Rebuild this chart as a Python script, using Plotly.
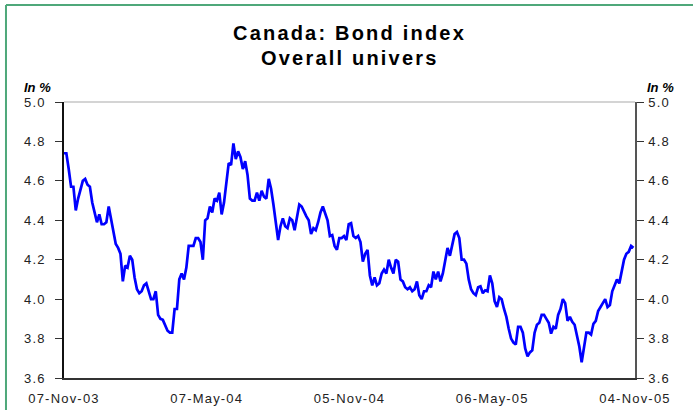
import plotly.graph_objects as go
import pandas as pd

# ---- data ----
start_date = "2003-11-07"
end_date = "2005-11-04"
dates = pd.date_range(start_date, periods=243, freq="3D")
yields = [
    4.74, 4.74, 4.66, 4.57, 4.57, 4.45, 4.51, 4.55, 4.60, 4.61,
    4.58, 4.57, 4.49, 4.44, 4.39, 4.43, 4.38, 4.38, 4.39, 4.47,
    4.41, 4.35, 4.28, 4.26, 4.23, 4.09, 4.17, 4.16, 4.22, 4.20,
    4.11, 4.05, 4.03, 4.04, 4.07, 4.08, 4.04, 4.00, 4.00, 4.04,
    3.92, 3.90, 3.895, 3.87, 3.84, 3.83, 3.83, 3.95, 3.95, 4.10,
    4.13, 4.10, 4.16, 4.27, 4.27, 4.27, 4.31, 4.31, 4.29, 4.20,
    4.40, 4.41, 4.47, 4.44, 4.51, 4.50, 4.54, 4.43, 4.49, 4.58,
    4.69, 4.68, 4.79, 4.71, 4.75, 4.72, 4.66, 4.70, 4.63, 4.51,
    4.50, 4.50, 4.54, 4.50, 4.55, 4.52, 4.51, 4.61, 4.56, 4.48,
    4.40, 4.30, 4.37, 4.41, 4.37, 4.36, 4.41, 4.40, 4.35, 4.42,
    4.48, 4.47, 4.44, 4.42, 4.40, 4.33, 4.36, 4.35, 4.39, 4.44,
    4.47, 4.44, 4.40, 4.32, 4.325, 4.27, 4.25, 4.31, 4.31, 4.32,
    4.30, 4.38, 4.385, 4.32, 4.31, 4.32, 4.29, 4.19, 4.23, 4.25,
    4.12, 4.07, 4.11, 4.07, 4.08, 4.13, 4.15, 4.13, 4.20, 4.16,
    4.13, 4.20, 4.19, 4.10, 4.09, 4.06, 4.05, 4.06, 4.04, 4.05,
    4.09, 4.02, 4.00, 4.04, 4.04, 4.07, 4.06, 4.14, 4.10, 4.14,
    4.09, 4.13, 4.20, 4.26, 4.22, 4.28, 4.33, 4.34, 4.31, 4.20,
    4.20, 4.18, 4.10, 4.05, 4.03, 4.02, 4.06, 4.065, 4.03, 4.045,
    4.04, 4.12, 4.08, 3.99, 3.96, 4.01, 4.00, 3.95, 3.91, 3.85,
    3.80, 3.78, 3.77, 3.86, 3.86, 3.83, 3.75, 3.71, 3.73, 3.74,
    3.83, 3.87, 3.88, 3.92, 3.92, 3.90, 3.88, 3.825, 3.86, 3.85,
    3.92, 3.95, 4.00, 3.98, 3.89, 3.91, 3.885, 3.87, 3.815, 3.76,
    3.68, 3.75, 3.83, 3.83, 3.82, 3.875, 3.89, 3.94, 3.96, 3.98,
    4.00, 3.96, 3.97, 4.04, 4.07, 4.10, 4.08, 4.15, 4.20, 4.23,
    4.24, 4.27, 4.26,
]
x_tick_dates = ["2003-11-07", "2004-05-07", "2004-11-05", "2005-05-06", "2005-11-04"]
x_tick_labels = ["07-Nov-03", "07-May-04", "05-Nov-04", "06-May-05", "04-Nov-05"]
y_ticks = [3.6, 3.8, 4.0, 4.2, 4.4, 4.6, 4.8, 5.0]
y_tick_labels = [f"{v:.1f}" for v in y_ticks]
title_lines = ["Canada: Bond index", "Overall univers"]
unit_label = "In %"

FONT = "Liberation Sans, Arial, sans-serif"
SP = '<span style="letter-spacing:1.2px">{}</span>'
TSP = '<span style="letter-spacing:2.2px">{}</span>'

fig = go.Figure()
fig.add_trace(go.Scatter(x=dates, y=yields, mode="lines",
                         line=dict(color="#0000ff", width=2.7),
                         showlegend=False, hoverinfo="x+y"))
fig.add_trace(go.Scatter(x=dates, y=yields, mode="lines", yaxis="y2",
                         line=dict(color="rgba(0,0,0,0)", width=0),
                         showlegend=False, hoverinfo="skip"))

axis_font = dict(family=FONT, size=13, color="#222222")
fig.update_layout(
    width=693, height=410,
    margin=dict(l=64, r=58, t=102, b=32, autoexpand=False),
    paper_bgcolor="white", plot_bgcolor="white",
    xaxis=dict(range=[start_date, end_date], tickvals=x_tick_dates,
               ticktext=[SP.format(t) for t in x_tick_labels],
               ticks="", showgrid=False, zeroline=False,
               showline=True, linecolor="#333333", linewidth=1.5,
               tickfont=axis_font, ticklabelstandoff=8),
    yaxis=dict(range=[3.6, 5.0], tickvals=y_ticks,
               ticktext=[SP.format(t) for t in y_tick_labels],
               ticks="outside", ticklen=7, tickwidth=1, tickcolor="#333333",
               showgrid=False, zeroline=False,
               showline=True, linecolor="#111111", linewidth=1.5,
               tickfont=axis_font, ticklabelstandoff=7),
    yaxis2=dict(range=[3.6, 5.0], tickvals=y_ticks,
                ticktext=[SP.format(t) for t in y_tick_labels],
                overlaying="y", side="right",
                ticks="outside", ticklen=7, tickwidth=1, tickcolor="#333333",
                showgrid=False, zeroline=False,
                showline=True, linecolor="#555555", linewidth=1.5,
                tickfont=axis_font, ticklabelstandoff=2),
)

# plot-area top border (light gray)
fig.add_shape(type="line", xref="paper", yref="paper", x0=0, x1=1, y0=1, y1=1,
              line=dict(color="#aaaaaa", width=1.2))
# green frame (left and top)
fig.add_shape(type="line", xref="paper", yref="paper", x0=-0.1016, x1=-0.1016,
              y0=1.351, y1=-0.2, line=dict(color="#4fa87a", width=2))
fig.add_shape(type="line", xref="paper", yref="paper", x0=-0.1016, x1=1.2,
              y0=1.351, y1=1.351, line=dict(color="#4fa87a", width=2))

# title
for i, line in enumerate(title_lines):
    fig.add_annotation(text="<b>" + TSP.format(line) + "</b>", xref="paper", yref="paper",
                       x=0.5, y=1.25 - i * 0.09, xanchor="center", yanchor="middle",
                       showarrow=False, font=dict(family=FONT, size=20, color="#000000"))
# unit labels
for xp in (-0.046, 1.044):
    fig.add_annotation(text="<b><i>" + unit_label + "</i></b>", xref="paper", yref="paper",
                       x=xp, y=1.054, xanchor="center", yanchor="middle",
                       showarrow=False, font=dict(family=FONT, size=13, color="#000000"))

fig.write_html("out.html", config={"displayModeBar": False},
               post_script="document.body.style.margin='0px';")
